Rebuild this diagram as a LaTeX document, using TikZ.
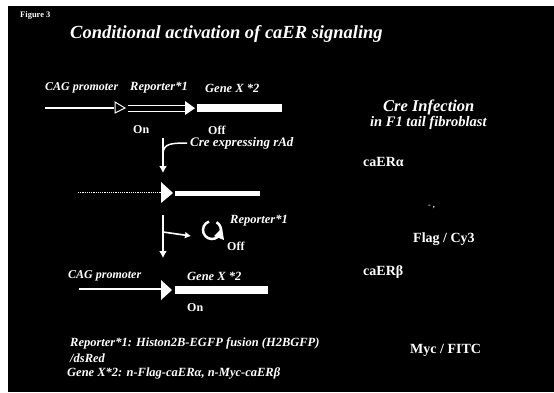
\documentclass[tikz,border=0pt]{standalone}
\usepackage{fontspec}
\setmainfont{Liberation Serif}
\usetikzlibrary{arrows.meta}
\begin{document}
\begin{tikzpicture}[x=1pt,y=-1pt,
  lab/.style={text=white,font=\bfseries\itshape\fontsize{12.5}{14}\selectfont,inner sep=0pt,anchor=west},
  up/.style={text=white,font=\bfseries\fontsize{12}{13}\selectfont,inner sep=0pt,anchor=west},
  big/.style={text=white,font=\bfseries\fontsize{14}{16}\selectfont,inner sep=0pt,anchor=west},
  foot/.style={text=white,font=\bfseries\itshape\fontsize{12.5}{14}\selectfont,inner sep=0pt,anchor=west},
  wl/.style={draw=white,line width=2.2pt},
  ar/.style={draw=white,line width=2pt,-{Latex[length=7pt,width=8pt]}}
]
\useasboundingbox (0,0) rectangle (554,392);
\fill[white] (0,0) rectangle (554,392);
\fill[black] (8,6) rectangle (554,392);
% title
\node[up,font=\bfseries\fontsize{8.5}{9}\selectfont] (fig) at (20,15) {Figure 3};
\node[lab,font=\bfseries\itshape\fontsize{18.5}{20}\selectfont] (title) at (70,34) {Conditional activation of caER signaling};
% row 1
\node[lab,font=\bfseries\itshape\fontsize{12}{14}\selectfont] (cag1) at (45,88) {CAG promoter};
\node[lab] (rep1) at (130,88) {Reporter*1};
\node[lab] (gx1) at (205,88) {Gene X *2};
\coordinate (l1a) at (45,108);
\coordinate (l1b) at (114,108);
\draw[wl] (l1a) -- (l1b);
\draw[draw=white,line width=1pt,fill=black] (115,102) -- (125,108) -- (115,113) -- cycle;
\draw[white,line width=0.9pt] (128,105.5) -- (186,105.5) (128,111) -- (186,111);
\fill[white] (185,101) -- (195,108.2) -- (185,115) -- cycle;
\fill[white] (197,104) rectangle (282,111.5);
\node[up] (on1) at (133,130) {On};
\node[up] (off1) at (208,130) {Off};
% cre arrow
\coordinate (v1a) at (163,138);
\coordinate (v1b) at (163,173);
\draw[ar] (v1a) -- (v1b);
\coordinate (cre) at (187,143);
\draw[white,line width=1.5pt] (163,153) .. controls (164,144) and (170,143) .. (cre);
\node[lab,font=\bfseries\itshape\fontsize{13}{15}\selectfont] (cretxt) at (190,143) {Cre expressing rAd};
% row 2
\coordinate (l2a) at (78,192.5);
\coordinate (l2b) at (161,192.5);
\draw[white,line width=1.2pt,densely dotted] (l2a) -- (l2b);
\fill[white] (161,182) -- (173,193) -- (161,203) -- cycle;
\fill[white] (175,190.5) rectangle (260,196);
% second arrow
\coordinate (v2a) at (163,215);
\coordinate (v2b) at (163,258);
\draw[ar] (v2a) -- (v2b);
\coordinate (br) at (191,236);
\draw[white,line width=1.6pt,-{Latex[length=6pt,width=7pt]}] (163,232) -- (br);
\draw[white,line width=2.5pt] (212,230) ++(250:9) arc (250:-60:9);
\fill[white] (214,236) -- (222,228) -- (224,240) -- cycle;
\node[lab] (rep2) at (230,221) {Reporter*1};
\node[up] (off2) at (227,246) {Off};
% row 3
\node[lab,font=\bfseries\itshape\fontsize{12}{14}\selectfont] (cag3) at (68,276) {CAG promoter};
\node[lab] (gx3) at (187,276) {Gene X *2};
\coordinate (l3a) at (79,289);
\coordinate (l3b) at (161,289);
\draw[white,line width=1.8pt] (l3a) -- (l3b);
\fill[white] (161,280) -- (172,290) -- (161,300) -- cycle;
\fill[white] (175,286) rectangle (268,294);
\node[up] (on3) at (187,308) {On};
% footnote
\node[foot] (fn1) at (70,343) {Reporter*1: Histon2B-EGFP fusion (H2BGFP)};
\node[foot] (fn2) at (70,358) {/dsRed};
\node[foot] (fn3) at (67,373) {Gene X*2: n-Flag-caERα, n-Myc-caERβ};
% right
\node[lab,font=\bfseries\itshape\fontsize{16.5}{18}\selectfont] (cre1) at (383,107) {Cre Infection};
\node[lab,font=\bfseries\itshape\fontsize{14.5}{16}\selectfont] (cre2) at (370,123) {in F1 tail fibroblast};
\node[big] (era) at (363,162) {caERα};
\node[up,font=\bfseries\fontsize{8}{9}\selectfont] (mark) at (428,207) {- ,};
\node[big] (flag) at (413,239) {Flag / Cy3};
\node[big] (erb) at (363,272) {caERβ};
\node[big] (myc) at (410,350) {Myc / FITC};
\end{tikzpicture}
\end{document}
